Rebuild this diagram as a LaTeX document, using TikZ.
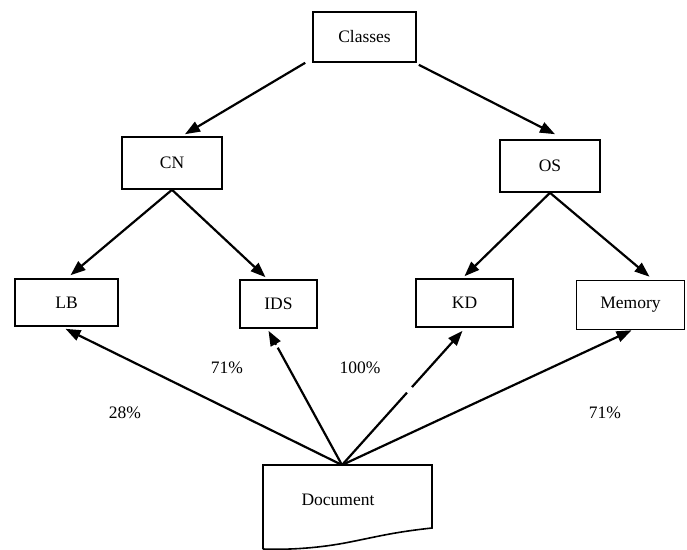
\documentclass[tikz,border=0pt]{standalone}
\usepackage{fontspec}
\setmainfont{Liberation Serif}
\usetikzlibrary{arrows.meta,calc}
\begin{document}
\begin{tikzpicture}[x=1pt,y=-1pt,
  box/.style={draw,line width=1.6pt,rectangle,inner sep=0pt,font=\fontsize{17.5}{20}\selectfont},
  arr/.style={line width=2.2pt,-{Triangle[length=15pt,width=11pt]}},
  gap/.style={white,line width=4pt},
  lbl/.style={font=\fontsize{17.5}{20}\selectfont}]
\useasboundingbox (0,0) rectangle (687,549);
\node[box,minimum width=103pt,minimum height=50pt] (Classes) at (364.5,37) {Classes};
\node[box,minimum width=100pt,minimum height=52pt] (CN) at (172,163) {CN};
\node[box,minimum width=100pt,minimum height=52pt] (OS) at (550,166) {OS};
\node[box,minimum width=103pt,minimum height=47pt] (LB) at (66.5,302.5) {LB};
\node[box,minimum width=77pt,minimum height=48pt] (IDS) at (278.5,304) {IDS};
\node[box,minimum width=97pt,minimum height=48pt] (KD) at (464.5,303) {KD};
\node[box,minimum width=108pt,minimum height=49pt] (Memory) at (630.5,305) {Memory};
% Document shape
\draw[line width=1.6pt] (263,549) -- (263,465) -- (432,465) -- (432,528)
  .. controls (395,532) and (380,536) .. (350,542)
  .. controls (320,548) and (290,550) .. (263,549);
\node[lbl] (Doc) at (338,500) {Document};
\coordinate (DocTop) at (342,465);
\coordinate (IDStip) at ($(IDS.south)+(-10,2)$);
\coordinate (KDtip) at ($(KD.south)+(-2,3)$);
% arrows
\draw[arr] ($(Classes.south west)+(-7,0)$) -- ($(CN.north)+(13,-2)$);
\draw[arr] ($(Classes.south east)+(2,2)$) -- ($(OS.north)+(5,-5)$);
\draw[arr] (CN.south) -- ($(LB.north)+(4,-3)$);
\draw[arr] (CN.south) -- ($(IDS.north)+(-13,-2)$);
\draw[arr] (OS.south) -- ($(KD.north)+(0,-2)$);
\draw[arr] (OS.south) -- ($(Memory.north)+(19,-3)$);
\draw[arr] (DocTop) -- ($(LB.south)+(-1,2)$);
\draw[arr] (DocTop) -- (IDStip);
\draw[arr] (DocTop) -- (KDtip);
\draw[arr] (DocTop) -- ($(Memory.south)+(1,0)$);
% small breaks in two connectors
\draw[gap] ($(DocTop)!0.875!(IDStip)$) -- ($(DocTop)!0.895!(IDStip)$);
\draw[gap] ($(DocTop)!0.54!(KDtip)$) -- ($(DocTop)!0.58!(KDtip)$);
% labels
\node[lbl] at (227,368) {71\%};
\node[lbl] at (360,368) {100\%};
\node[lbl] at (125,413) {28\%};
\node[lbl] at (605,413) {71\%};
\end{tikzpicture}
\end{document}
